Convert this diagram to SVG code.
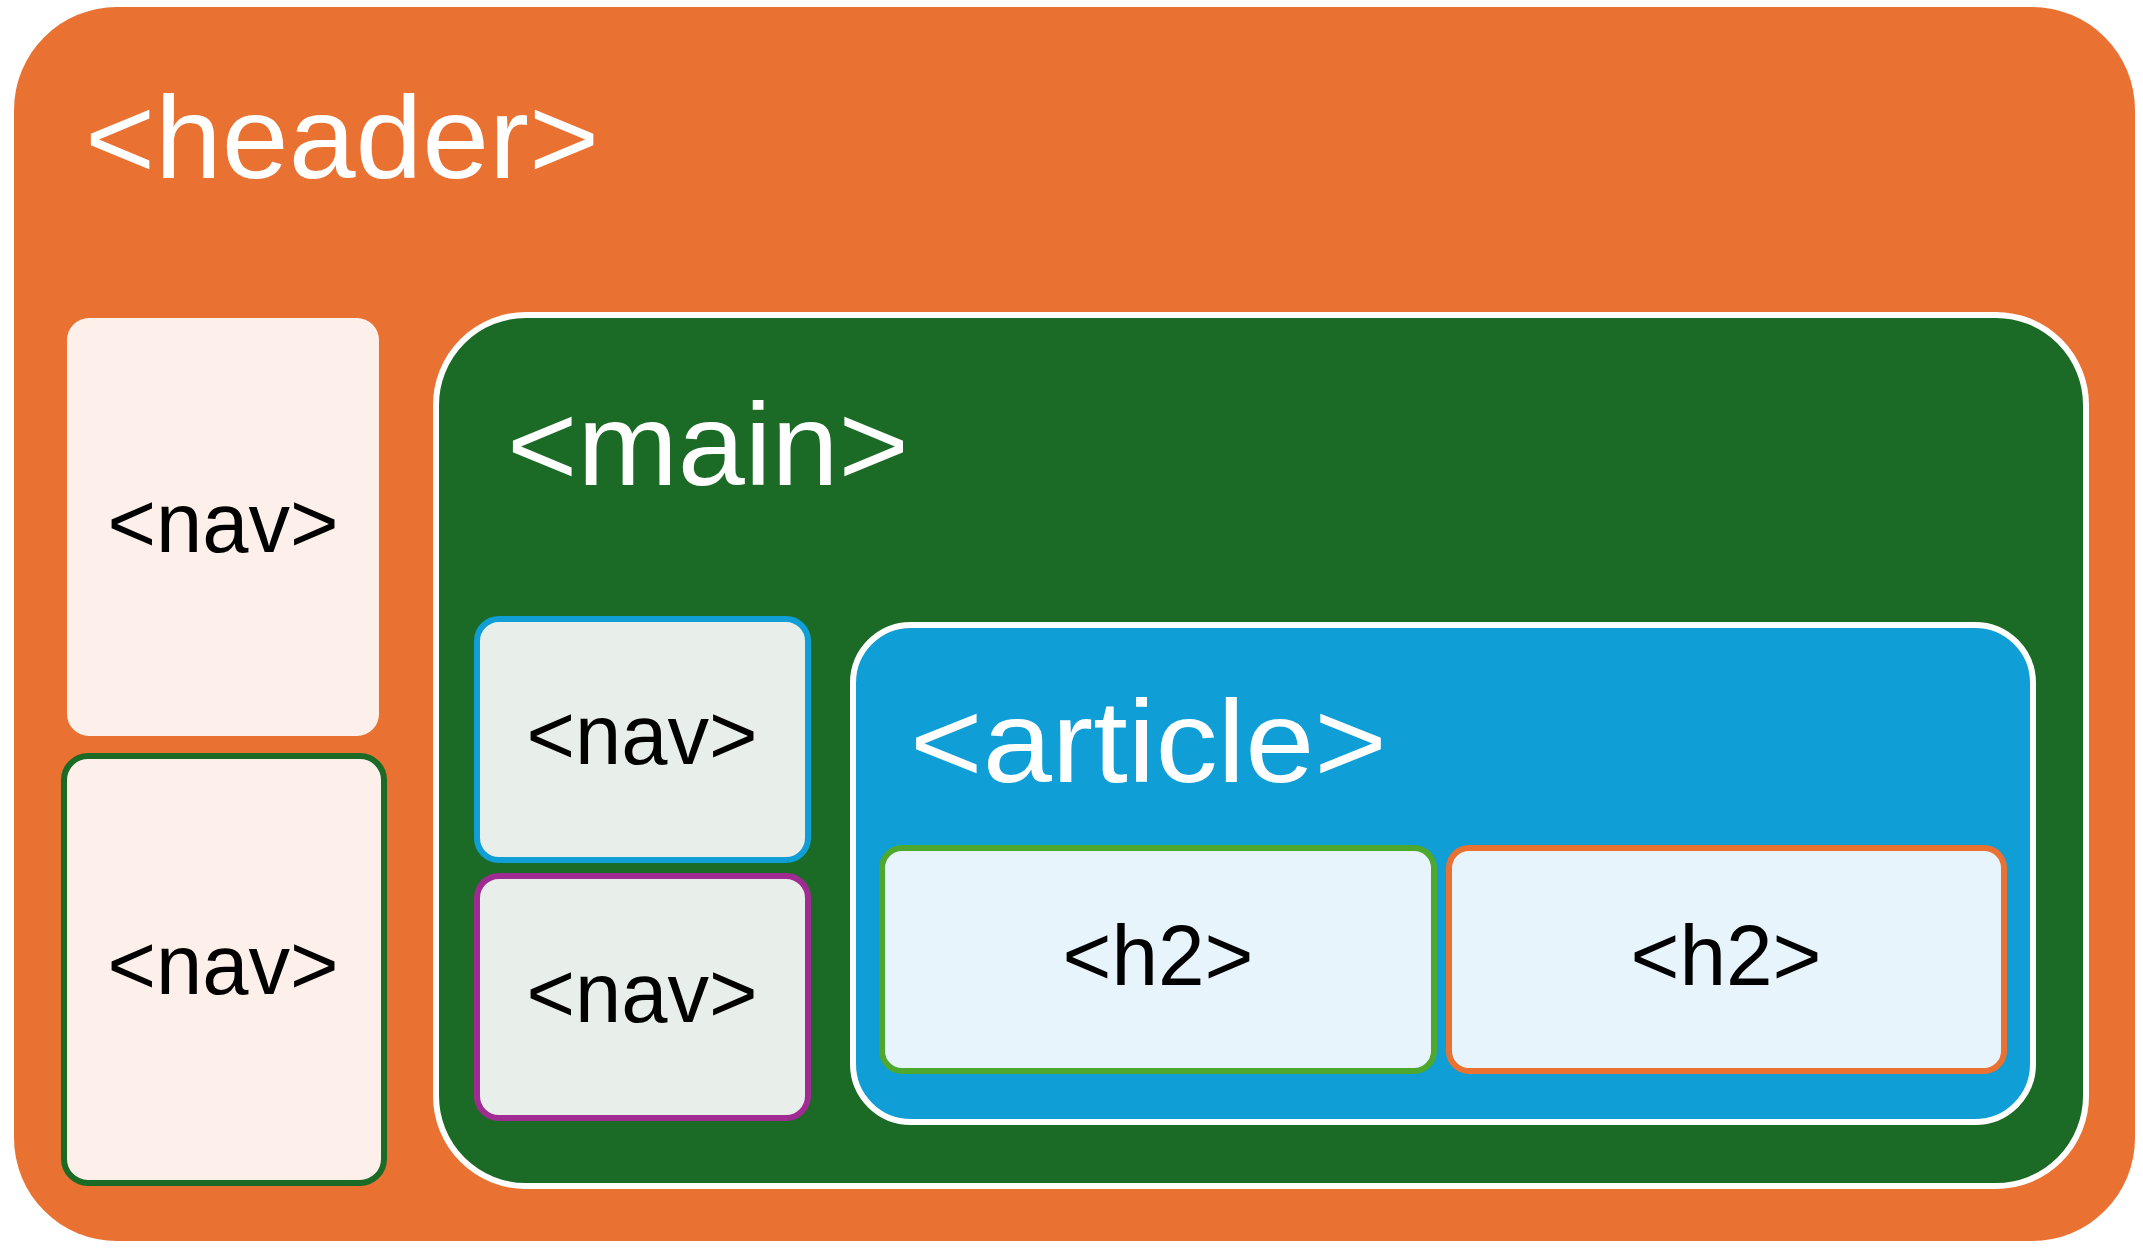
<svg xmlns="http://www.w3.org/2000/svg" width="2143" height="1249" viewBox="0 0 2143 1249">
<style>
.big{font-family:"Liberation Sans",Arial,sans-serif;font-size:117px;fill:#FFFFFF}
.small{font-family:"Liberation Sans",Arial,sans-serif;font-size:86px;fill:#000000;text-anchor:middle}
.navfill{fill:#FDF0EA}
.innerfill{fill:#E8EEEA;stroke-width:6}
.h2box{fill:#E8F4FB;stroke-width:6}
.container{stroke:#FFFFFF;stroke-width:6}
</style>
<rect width="2143" height="1249" fill="#FFFFFF"/>
<g id="header">
<rect x="14" y="7" width="2121" height="1234" rx="103" ry="103" fill="#E97132"/>
<text class="big" x="85" y="178" textLength="514" lengthAdjust="spacingAndGlyphs">&lt;header&gt;</text>
</g>
<g id="nav-left-top">
<rect class="navfill" x="67" y="318" width="312" height="418" rx="22" ry="22"/>
<text class="small" x="223" y="552" textLength="231" lengthAdjust="spacingAndGlyphs">&lt;nav&gt;</text>
</g>
<g id="nav-left-bottom">
<rect class="navfill" x="64" y="756" width="320" height="427" rx="24" ry="24" stroke="#1B6B26" stroke-width="6"/>
<text class="small" x="223" y="994" textLength="231" lengthAdjust="spacingAndGlyphs">&lt;nav&gt;</text>
</g>
<g id="main">
<rect class="container" x="436" y="315" width="1650" height="871" rx="90" ry="90" fill="#1B6B26"/>
<text class="big" x="507" y="485" textLength="402" lengthAdjust="spacingAndGlyphs">&lt;main&gt;</text>
</g>
<g id="nav-main-top">
<rect class="innerfill" x="477" y="619" width="331" height="241" rx="22" ry="22" stroke="#0F9ED5"/>
<text class="small" x="642" y="764" textLength="231" lengthAdjust="spacingAndGlyphs">&lt;nav&gt;</text>
</g>
<g id="nav-main-bottom">
<rect class="innerfill" x="477" y="876" width="331" height="242" rx="22" ry="22" stroke="#A02B93"/>
<text class="small" x="642" y="1022" textLength="231" lengthAdjust="spacingAndGlyphs">&lt;nav&gt;</text>
</g>
<g id="article">
<rect class="container" x="853" y="625" width="1180" height="497" rx="58" ry="58" fill="#0F9ED5"/>
<text class="big" x="910" y="782" textLength="477" lengthAdjust="spacingAndGlyphs">&lt;article&gt;</text>
</g>
<g id="h2-left">
<rect class="h2box" x="882" y="848" width="552" height="223" rx="20" ry="20" stroke="#4EA72E"/>
<text class="small" x="1158" y="985" textLength="191" lengthAdjust="spacingAndGlyphs">&lt;h2&gt;</text>
</g>
<g id="h2-right">
<rect class="h2box" x="1449" y="848" width="555" height="223" rx="20" ry="20" stroke="#E97132"/>
<text class="small" x="1726" y="985" textLength="191" lengthAdjust="spacingAndGlyphs">&lt;h2&gt;</text>
</g>
<g id="connectors"/>
</svg>
